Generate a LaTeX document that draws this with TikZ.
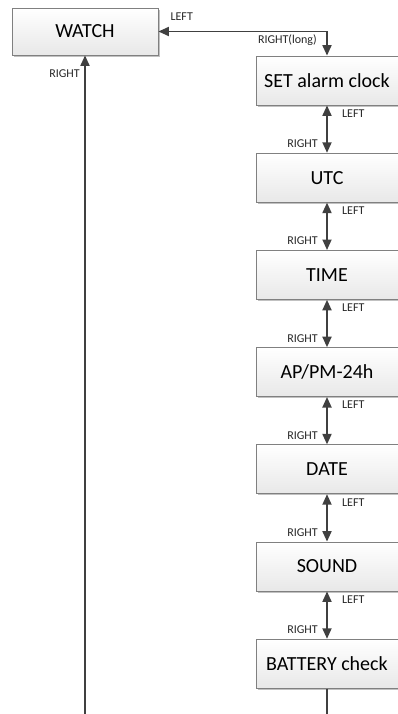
\documentclass[tikz,border=0pt]{standalone}
\usepackage{fontspec}
\setmainfont{Carlito}
\usepackage{tikz}
\usetikzlibrary{arrows.meta, positioning, shadows}
\definecolor{linegray}{HTML}{404040}
\definecolor{boxborder}{HTML}{808080}

\begin{document}
\begin{tikzpicture}[
    x=1pt, y=1pt,
    node distance=47.4pt,
    state/.style={rectangle, draw=boxborder, line width=0.8pt, top color=white, bottom color=black!9,
        drop shadow={shadow xshift=1.6pt, shadow yshift=-1.6pt, fill=black!30, opacity=0.8},
        minimum width=142pt, minimum height=49pt, inner sep=0pt, align=center,
        font=\fontsize{20}{23}\selectfont},
    arrow/.style={draw=linegray, line width=1.8pt, {Triangle[length=10.5pt, width=9pt]}-{Triangle[length=10.5pt, width=9pt]}},
    lbl/.style={font=\fontsize{12}{14}\selectfont, text=black!85, inner sep=0pt}
]
    \useasboundingbox (0,0) rectangle (398,-714);

    \node[state, minimum width=146pt, minimum height=47pt] (watch) at (85,-31.5) {WATCH};
    \node[state] (alarm) at (327,-80.5) {SET alarm clock};
    \node[state, below=of alarm] (utc) {UTC};
    \node[state, below=of utc] (time) {TIME};
    \node[state, below=of time] (ampm) {AP/PM-24h};
    \node[state, below=of ampm] (date) {DATE};
    \node[state, below=of date] (sound) {SOUND};
    \node[state, below=of sound] (battery) {BATTERY check};

    \coordinate (corner) at (alarm.north |- watch.east);
    \coordinate (leftend) at (watch.south |- 0,-714);
    \coordinate (batend) at (battery.south |- 0,-714);

    \draw[arrow] (watch.east) -- (corner) -- (alarm.north);
    \node[lbl, anchor=west] (toleft) at ([xshift=12pt, yshift=14.5pt]watch.east) {LEFT};
    \node[lbl, anchor=east] (tolong) at ([xshift=-10pt, yshift=-8.5pt]corner) {RIGHT(long)};

    \draw[arrow, {Triangle[length=10.5pt, width=9pt]}-] (watch.south) -- (leftend);
    \node[lbl, anchor=east] (toright) at ([xshift=-5pt, yshift=-18pt]watch.south) {RIGHT};

    \foreach \upper/\lower in {alarm/utc, utc/time, time/ampm, ampm/date, date/sound, sound/battery} {
        \draw[arrow] (\upper.south) -- (\lower.north);
        \node[lbl, anchor=west] at ([xshift=15pt, yshift=-8pt]\upper.south) {LEFT};
        \node[lbl, anchor=east] at ([xshift=-9pt, yshift=9pt]\lower.north) {RIGHT};
    }

    \draw[draw=linegray, line width=1.8pt] (battery.south) -- (batend);
\end{tikzpicture}
\end{document}
